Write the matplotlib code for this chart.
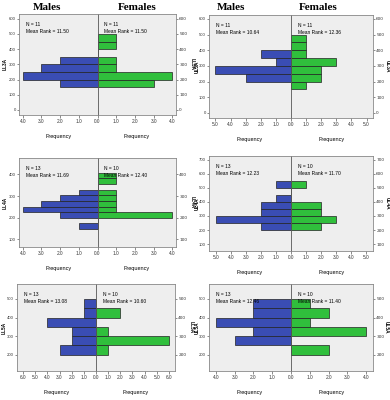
import matplotlib.pyplot as plt
import numpy as np

# lower bin edges, counts per bin (males / females)
ll3a_bins = [150, 200, 250, 300, 350, 400, 450]
ll3a_males = [2, 4, 3, 2, 0, 0, 0]
ll3a_females = [3, 4, 1, 1, 0, 1, 1]

ul3a_bins = [150, 200, 250, 300, 350, 400, 450]
ul3a_males = [0, 3, 5, 1, 2, 0, 0]
ul3a_females = [1, 2, 2, 3, 1, 1, 1]

ll4a_bins = [148, 174, 200, 226, 252, 278, 304, 330, 356, 382]
ll4a_males = [1, 0, 2, 4, 3, 2, 1, 0, 0, 0]
ll4a_females = [0, 0, 4, 1, 1, 1, 1, 0, 1, 1]

ul4a_bins = [200, 250, 300, 350, 400, 450, 500]
ul4a_males = [2, 5, 2, 2, 1, 0, 1]
ul4a_females = [2, 3, 2, 2, 0, 0, 1]

ll5a_bins = [200, 250, 300, 350, 400, 450]
ll5a_males = [3, 2, 2, 4, 1, 1]
ll5a_females = [1, 6, 1, 0, 2, 0]

ul5a_bins = [200, 250, 300, 350, 400, 450]
ul5a_males = [0, 3, 2, 4, 2, 2]
ul5a_females = [2, 0, 4, 1, 2, 1]

labels = ['LL3A', 'UL3A', 'LL4A', 'UL4A', 'LL5A', 'UL5A']
n_males = [11, 11, 13, 13, 13, 13]
n_females = [11, 11, 10, 10, 10, 10]
rank_males = [11.50, 10.64, 11.69, 12.23, 13.08, 12.46]
rank_females = [11.50, 12.36, 12.40, 11.70, 10.60, 11.40]

BLUE = '#3a4db4'
GREEN = '#30bf3c'
BG = '#eeeeee'
W, H = 390, 400
small = ['Liberation Sans Narrow', 'Liberation Sans', 'DejaVu Sans']

fig = plt.figure(figsize=(W / 100, H / 100), dpi=100)


def draw_panel(box, lab_x, bins, males, females, bw, xmax, ylim, yticks, label, i):
	left, right, top, bottom = box
	mid = (left + right) / 2
	axl = fig.add_axes([left / W, 1 - bottom / H, (mid - left) / W, (bottom - top) / H])
	axr = fig.add_axes([mid / W, 1 - bottom / H, (right - mid) / W, (bottom - top) / H])
	axl.barh(bins, males, height=bw, align='edge', color=BLUE, edgecolor='#222222', linewidth=0.5)
	axr.barh(bins, females, height=bw, align='edge', color=GREEN, edgecolor='#222222', linewidth=0.5)
	axl.set_xlim(xmax, 0)
	axr.set_xlim(0, xmax)
	xt = np.arange(0, int(xmax) + 1)
	axl.set_xticks(xt)
	axl.set_xticklabels(['%.1f' % v for v in xt])
	axr.set_xticks(xt[1:])
	axr.set_xticklabels(['%.1f' % v for v in xt[1:]])
	for a in (axl, axr):
		a.set_facecolor(BG)
		a.set_ylim(*ylim)
		a.set_yticks(yticks)
		a.tick_params(labelsize=3.4, length=2, width=0.4, pad=1.2, colors='#333333')
		a.tick_params(axis='y', labelsize=3.1, length=1.6, pad=0.7)
		for lb in a.get_xticklabels() + a.get_yticklabels():
			lb.set_family(small)
		for s in a.spines.values():
			s.set_color('#888888')
			s.set_linewidth(0.6)
		a.set_xlabel('Frequency', fontsize=4, family=small, labelpad=7)
	axl.spines['right'].set_visible(False)
	axr.spines['left'].set_color('#555555')
	axr.yaxis.tick_right()
	yc = 1 - (top + bottom) / 2 / H
	fig.text(lab_x[0] / W, yc, label, fontsize=3.4, fontweight='bold', family=small,
		rotation=90, ha='center', va='center')
	fig.text(lab_x[1] / W, yc, label, fontsize=3.4, fontweight='bold', family=small,
		rotation=270, ha='center', va='center')
	for a, n, r in ((axl, n_males[i], rank_males[i]), (axr, n_females[i], rank_females[i])):
		a.annotate('N = %d' % n, xy=(0, 1), xycoords='axes fraction', xytext=(7, -8),
			textcoords='offset pixels', fontsize=3.5, family=small, va='top')
		a.annotate('Mean Rank = %.2f' % r, xy=(0, 1), xycoords='axes fraction', xytext=(7, -15),
			textcoords='offset pixels', fontsize=3.5, family=small, va='top')


draw_panel((19, 176, 14, 115), (5, 192), ll3a_bins, ll3a_males, ll3a_females, 50, 4.2, (-33, 631), range(0, 601, 100), labels[0], 0)
draw_panel((209, 373, 15, 118), (197, 387.5), ul3a_bins, ul3a_males, ul3a_females, 50, 5.43, (-32, 625), range(0, 601, 100), labels[1], 1)
draw_panel((19, 176, 158, 247), (5, 192), ll4a_bins, ll4a_males, ll4a_females, 26, 4.2, (65, 476), range(100, 401, 100), labels[2], 2)
draw_panel((209, 373, 156, 251), (197, 387.5), ul4a_bins, ul4a_males, ul4a_females, 50, 5.49, (52, 725), range(100, 701, 100), labels[3], 3)
draw_panel((17, 175, 284, 371), (4, 191), ll5a_bins, ll5a_males, ll5a_females, 50, 6.5, (111, 581), range(200, 501, 100), labels[4], 4)
draw_panel((209, 373, 284, 371), (197, 386), ul5a_bins, ul5a_males, ul5a_females, 50, 4.37, (111, 581), range(200, 501, 100), labels[5], 5)

title_font = dict(fontsize=8, fontweight='bold', family=['Liberation Serif', 'DejaVu Serif'], ha='center', va='center')
fig.text(47 / W, 1 - 8 / H, 'Males', **title_font)
fig.text(137 / W, 1 - 8 / H, 'Females', **title_font)
fig.text(231 / W, 1 - 8 / H, 'Males', **title_font)
fig.text(318 / W, 1 - 8 / H, 'Females', **title_font)

fig.savefig('out.png', dpi=100, facecolor='white')
